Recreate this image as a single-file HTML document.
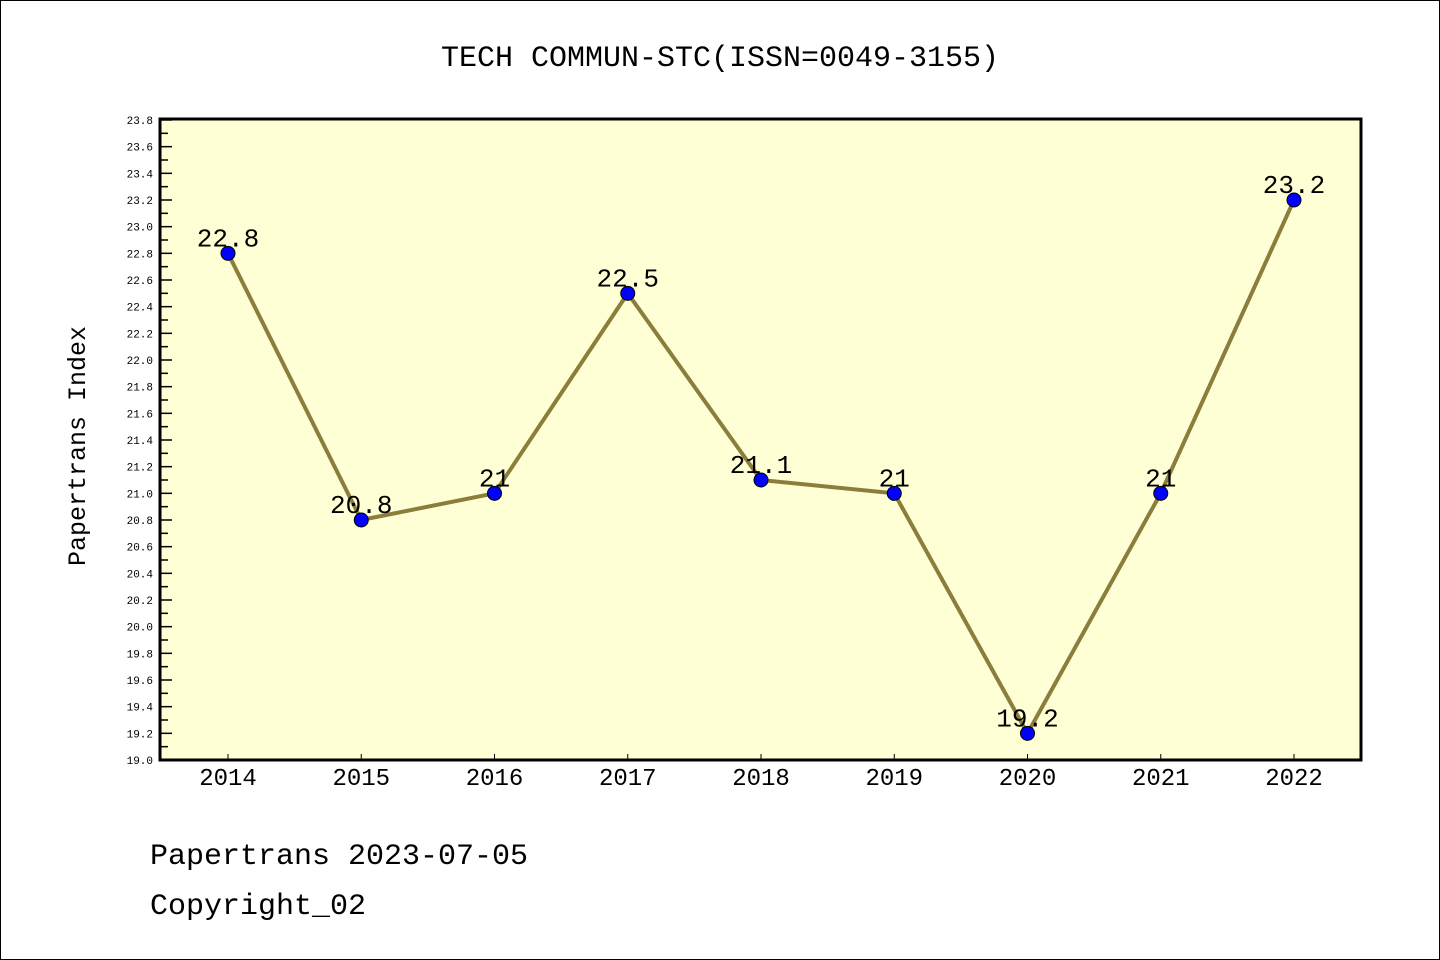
<!DOCTYPE html>
<html><head><meta charset="utf-8"><style>
html,body{margin:0;padding:0;background:#fff}
svg{display:block}
text{font-family:"Liberation Mono","DejaVu Sans Mono",monospace}
</style></head><body>
<svg width="1440" height="960" viewBox="0 0 1440 960">
<rect x="0.5" y="0.5" width="1439" height="959" fill="#fff" stroke="#000"/>
<text x="720" y="66" font-size="30" text-anchor="middle">TECH COMMUN-STC(ISSN=0049-3155)</text>
<rect x="160" y="119" width="1201" height="641" fill="#ffffd5"/>
<g id="yaxis"></g>
<g id="xaxis"></g>
<g id="series"></g>
<rect x="160" y="119" width="1201" height="641" fill="none" stroke="#000" stroke-width="3"/>
<text transform="translate(85,446) rotate(-90)" font-size="25" text-anchor="middle">Papertrans Index</text>
<text x="150" y="864" font-size="30">Papertrans 2023-07-05</text>
<text x="150" y="914" font-size="30">Copyright_02</text>
</svg>
<script>
const years = ["2014","2015","2016","2017","2018","2019","2020","2021","2022"];
const values = [22.8,20.8,21,22.5,21.1,21,19.2,21,23.2];
const labels = ["22.8","20.8","21","22.5","21.1","21","19.2","21","23.2"];
const yTicks = ["19.0","19.2","19.4","19.6","19.8","20.0","20.2","20.4","20.6","20.8","21.0","21.2","21.4","21.6","21.8","22.0","22.2","22.4","22.6","22.8","23.0","23.2","23.4","23.6","23.8"];
const NS="http://www.w3.org/2000/svg";
const yMin=19.0,yMax=23.8,yTop=120,yBot=760;
function yS(v){return yBot-(v-yMin)/(yMax-yMin)*(yBot-yTop);}
function xS(i){return 228+i*(1294-228)/(years.length-1);}
function mk(t,a,p){const e=document.createElementNS(NS,t);for(const k in a)e.setAttribute(k,a[k]);p.appendChild(e);return e;}
const ya=document.getElementById('yaxis');
for(let k=0;k<yTicks.length;k++){
  const v=parseFloat(yTicks[k]);const y=yS(v);
  const t=mk('text',{x:153,y:y+4,'font-size':11,'text-anchor':'end'},ya);t.textContent=yTicks[k];
  
  
  const l=mk('line',{x1:160,x2:172,y1:y,y2:y,stroke:'#000','stroke-width':1.5},ya);
  
  
  if(k<yTicks.length-1){const ym=yS(v+0.1);
    const m=mk('line',{x1:160,x2:168,y1:ym,y2:ym,stroke:'#000','stroke-width':1.5},ya);
    
    }
}
const xa=document.getElementById('xaxis');
years.forEach((yr,i)=>{const x=xS(i);
  const l=mk('line',{x1:x,x2:x,y1:760,y2:754,stroke:'#000','stroke-width':1},xa);
  
  
  const t=mk('text',{x:x,y:785,'font-size':24,'text-anchor':'middle'},xa);t.textContent=yr;
  
  
});
const s=document.getElementById('series');
const pts=values.map((v,i)=>xS(i)+','+yS(v)).join(' ');
const pl=mk('polyline',{points:pts,fill:'none',stroke:'#8b7d3a','stroke-width':4},s);


values.forEach((v,i)=>{
  const c=mk('circle',{cx:xS(i),cy:yS(v),r:7,fill:'#0000ff',stroke:'#000','stroke-width':1},s);
  
  
  const t=mk('text',{x:xS(i),y:yS(v)-7,'font-size':26,'text-anchor':'middle'},s);t.textContent=labels[i];
  
  
});
</script>
</body></html>
